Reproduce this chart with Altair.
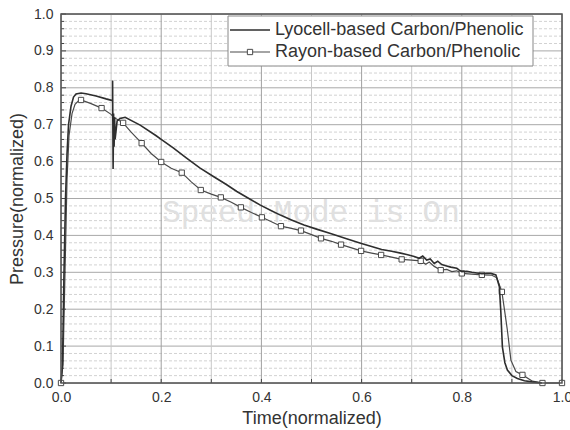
import altair as alt
import pandas as pd
import numpy as np

# ---------------- data ----------------
series_names = ["Lyocell-based Carbon/Phenolic", "Rayon-based Carbon/Phenolic"]

lyo_x = [0.0, 0.003, 0.006, 0.009, 0.012, 0.015, 0.02, 0.025, 0.03, 0.04, 0.05, 0.07, 0.09,
         0.101, 0.103, 0.103, 0.104, 0.105, 0.106, 0.107, 0.108, 0.112, 0.118, 0.128, 0.158,
         0.19, 0.2, 0.224, 0.25, 0.277, 0.305, 0.33, 0.351, 0.375, 0.398, 0.42, 0.438, 0.46,
         0.485, 0.51, 0.538, 0.57, 0.598, 0.62, 0.64, 0.66, 0.678, 0.69, 0.705, 0.715, 0.722,
         0.73, 0.737, 0.745, 0.752, 0.76, 0.768, 0.778, 0.79, 0.795, 0.80, 0.81, 0.82, 0.83,
         0.84, 0.85, 0.858, 0.868, 0.875, 0.878, 0.881, 0.886, 0.891, 0.90, 0.911, 0.925, 0.94, 0.96]
lyo_y = [0.0, 0.05, 0.3, 0.5, 0.62, 0.70, 0.75, 0.775, 0.783, 0.786, 0.784, 0.778, 0.770,
         0.766, 0.766, 0.82, 0.58, 0.73, 0.64, 0.72, 0.66, 0.71, 0.717, 0.72, 0.699,
         0.67, 0.66, 0.637, 0.61, 0.583, 0.559, 0.538, 0.519, 0.50, 0.482, 0.467, 0.455, 0.442,
         0.428, 0.417, 0.405, 0.391, 0.379, 0.37, 0.362, 0.357, 0.352, 0.348, 0.343, 0.338, 0.344,
         0.333, 0.336, 0.324, 0.33, 0.321, 0.318, 0.314, 0.311, 0.306, 0.302, 0.303, 0.300, 0.298,
         0.296, 0.297, 0.297, 0.293, 0.261, 0.19, 0.098, 0.055, 0.035, 0.02, 0.012, 0.006, 0.003, 0.0]

ray_x = [0.0, 0.004, 0.008, 0.012, 0.016, 0.022, 0.028, 0.035, 0.04, 0.06, 0.081, 0.1, 0.105,
         0.124, 0.14, 0.161, 0.18, 0.2, 0.22, 0.241, 0.26, 0.279, 0.3, 0.319, 0.34, 0.359, 0.38,
         0.401, 0.42, 0.439, 0.46, 0.479, 0.5, 0.519, 0.54, 0.559, 0.58, 0.599, 0.62, 0.639, 0.66,
         0.68, 0.70, 0.718, 0.728, 0.735, 0.745, 0.758, 0.77, 0.78, 0.79, 0.8, 0.82, 0.84, 0.86,
         0.87, 0.88, 0.885, 0.891, 0.898, 0.908, 0.921, 0.941, 0.961, 1.0]
ray_y = [0.0, 0.05, 0.3, 0.55, 0.67, 0.73, 0.755, 0.765, 0.767, 0.757, 0.745, 0.728, 0.72,
         0.705, 0.68, 0.65, 0.622, 0.599, 0.582, 0.57, 0.545, 0.523, 0.512, 0.503, 0.49, 0.476, 0.462,
         0.449, 0.437, 0.425, 0.419, 0.413, 0.402, 0.392, 0.384, 0.375, 0.366, 0.358, 0.352, 0.347, 0.341,
         0.335, 0.333, 0.331, 0.322, 0.328, 0.316, 0.306, 0.308, 0.302, 0.304, 0.297, 0.295, 0.293, 0.292,
         0.285, 0.247, 0.2, 0.143, 0.062, 0.031, 0.022, 0.005, 0.0, 0.0]

ray_mark_x = [0.0, 0.04, 0.081, 0.124, 0.161, 0.2, 0.241, 0.279, 0.319, 0.359, 0.401, 0.439,
              0.479, 0.519, 0.559, 0.599, 0.639, 0.68, 0.718, 0.758, 0.8, 0.84, 0.88, 0.921, 0.961, 1.0]
ray_mark_y = [0.0, 0.767, 0.745, 0.705, 0.65, 0.599, 0.57, 0.523, 0.503, 0.476, 0.449, 0.425,
              0.413, 0.392, 0.375, 0.358, 0.347, 0.335, 0.331, 0.306, 0.297, 0.293, 0.247, 0.022, 0.0, 0.0]

x_major = [0.0, 0.2, 0.4, 0.6, 0.8, 1.0]
x_minor = [0.1, 0.3, 0.5, 0.7, 0.9]
y_major = [round(v, 1) for v in np.arange(0, 1.01, 0.1)]
y_minor = [round(v, 2) for v in np.arange(0, 1.001, 0.02) if round(v * 50) % 5 != 0]

watermark = "Speed Mode is On"
x_title = "Time(normalized)"
y_title = "Pressure(normalized)"

# ---------------- chart ----------------
W, H = 501, 369
FONT = "Liberation Sans"
xs = alt.Scale(domain=[0, 1], nice=False, zero=False)
ys = alt.Scale(domain=[0, 1], nice=False, zero=False)

X_AXIS = alt.Axis(
    values=x_major, format=".1f", grid=False, ticks=False, tickSize=0, domain=False,
    labelFlush=False, labelOverlap=False,
    labelFont=FONT, labelFontSize=14, labelColor="#333", labelPadding=7,
    title=x_title, titleFont=FONT, titleFontSize=18, titleFontWeight="normal",
    titleColor="#333", titleY=35, titleBaseline="middle")
Y_AXIS = alt.Axis(
    values=y_major, format=".1f", grid=False, ticks=False, tickSize=0, domain=False,
    labelFlush=False, labelOverlap=False,
    labelFont=FONT, labelFontSize=14, labelColor="#333", labelPadding=8,
    title=y_title, titleFont=FONT, titleFontSize=18, titleFontWeight="normal",
    titleColor="#333", titleX=-44, titleBaseline="middle")


def X(field="x"):
    return alt.X(f"{field}:Q", scale=xs, axis=X_AXIS)


def Y(field="y"):
    return alt.Y(f"{field}:Q", scale=ys, axis=Y_AXIS)


lyo = pd.DataFrame({"x": lyo_x, "y": lyo_y, "i": range(len(lyo_x))})
ray = pd.DataFrame({"x": ray_x, "y": ray_y, "i": range(len(ray_x))})
raym = pd.DataFrame({"x": ray_mark_x, "y": ray_mark_y})

grid_ymin = alt.Chart(pd.DataFrame({"y": y_minor})).mark_rule(
    color="#d2d2d2", strokeWidth=1, strokeDash=[3, 2]).encode(y=Y())
grid_ymaj = alt.Chart(pd.DataFrame({"y": y_major})).mark_rule(
    color="#a8a8a8", strokeWidth=1).encode(y=Y())
grid_xmin = alt.Chart(pd.DataFrame({"x": x_minor})).mark_rule(
    color="#c8c8c8", strokeWidth=1).encode(x=X())
grid_xmaj = alt.Chart(pd.DataFrame({"x": x_major})).mark_rule(
    color="#a0a0a0", strokeWidth=1).encode(x=X())

# inward ticks
tick_ymaj = alt.Chart(pd.DataFrame({"y": y_major})).mark_rule(color="#444", strokeWidth=1).encode(
    y=Y(), x=alt.value(0), x2=alt.value(5))
tick_ymin = alt.Chart(pd.DataFrame({"y": y_minor})).mark_rule(color="#444", strokeWidth=1).encode(
    y=Y(), x=alt.value(0), x2=alt.value(3))
tick_x = alt.Chart(pd.DataFrame({"x": x_major + x_minor})).mark_rule(color="#444", strokeWidth=1).encode(
    x=X(), y=alt.value(H), y2=alt.value(H - 4))

wm = alt.Chart(pd.DataFrame({"a": [0]})).mark_text(
    font="Liberation Mono", fontSize=31, color="#e0e0e0", align="center", baseline="middle"
).encode(x=alt.value(250), y=alt.value(199), text=alt.value(watermark))

line_ray = alt.Chart(ray).mark_line(color="#4a4a4a", strokeWidth=1.2).encode(
    x=X(), y=Y(), order="i:Q")
pts_ray = alt.Chart(raym).mark_point(
    shape="square", size=28, filled=True, fill="white", stroke="#4a4a4a", strokeWidth=1, opacity=1
).encode(x=X(), y=Y())
line_lyo = alt.Chart(lyo).mark_line(color="#2e2e2e", strokeWidth=1.6).encode(
    x=X(), y=Y(), order="i:Q")

frame = alt.Chart(pd.DataFrame({"a": [0]})).mark_rect(
    fill=None, stroke="#555", strokeWidth=1.5).encode(
    x=alt.value(0), x2=alt.value(W), y=alt.value(0), y2=alt.value(H))

# legend
leg_box = alt.Chart(pd.DataFrame({"a": [0]})).mark_rect(
    fill="white", stroke="#888", strokeWidth=1).encode(
    x=alt.value(167), x2=alt.value(472), y=alt.value(2), y2=alt.value(52))
leg_l1 = alt.Chart(pd.DataFrame({"a": [0]})).mark_rule(color="#2e2e2e", strokeWidth=1.6).encode(
    x=alt.value(169), x2=alt.value(209), y=alt.value(16))
leg_l2 = alt.Chart(pd.DataFrame({"a": [0]})).mark_rule(color="#4a4a4a", strokeWidth=1.2).encode(
    x=alt.value(169), x2=alt.value(209), y=alt.value(38))
leg_p2 = alt.Chart(pd.DataFrame({"a": [0]})).mark_point(
    shape="square", size=28, filled=True, fill="white", stroke="#4a4a4a", strokeWidth=1, opacity=1
).encode(x=alt.value(189), y=alt.value(38))
leg_t1 = alt.Chart(pd.DataFrame({"a": [0]})).mark_text(
    font=FONT, fontSize=18, color="#333", align="left", baseline="middle"
).encode(x=alt.value(214), y=alt.value(16), text=alt.value(series_names[0]))
leg_t2 = alt.Chart(pd.DataFrame({"a": [0]})).mark_text(
    font=FONT, fontSize=18, color="#333", align="left", baseline="middle"
).encode(x=alt.value(214), y=alt.value(38), text=alt.value(series_names[1]))

chart = alt.layer(
    grid_ymin, grid_ymaj, grid_xmin, grid_xmaj, wm, tick_ymaj, tick_ymin, tick_x,
    line_ray, pts_ray, line_lyo, frame,
    leg_box, leg_l1, leg_l2, leg_p2, leg_t1, leg_t2,
).properties(
    width=W, height=H,
    autosize=alt.AutoSizeParams(type="none"),
    padding={"left": 61, "top": 14, "right": 8, "bottom": 47},
).configure_view(stroke=None).configure(background="white")

chart.save("out.html", embed_options={"renderer": "svg", "actions": False})
